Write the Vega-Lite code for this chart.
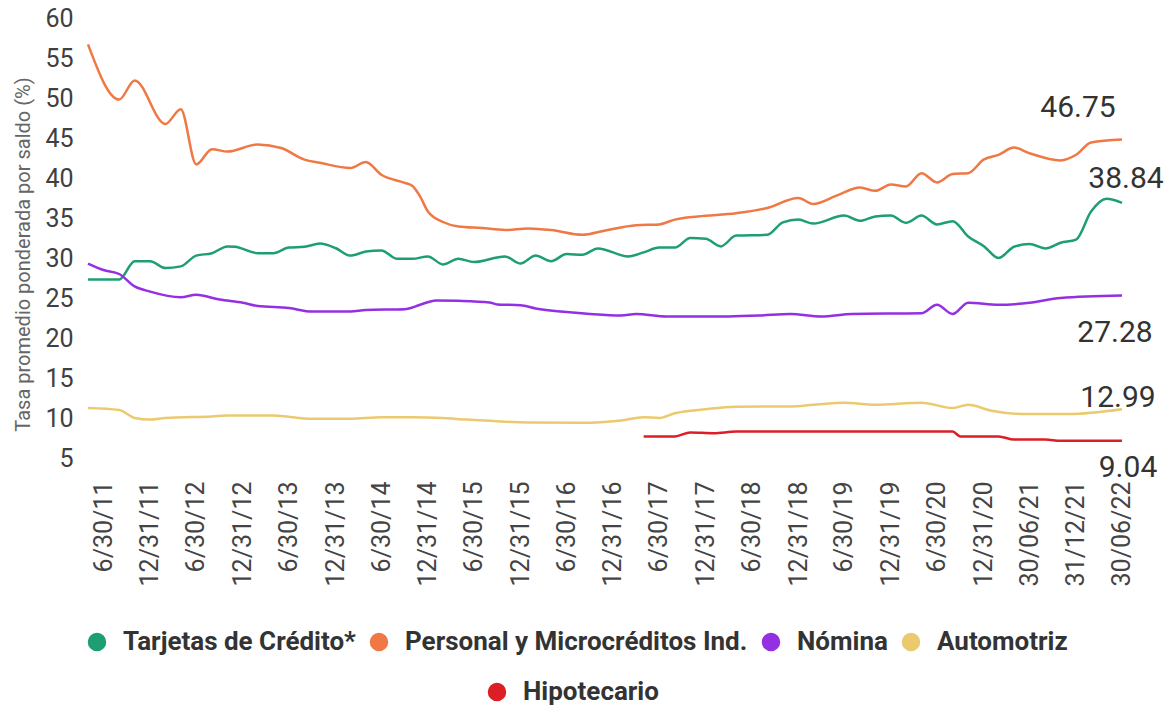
{
  "$schema": "https://vega.github.io/schema/vega-lite/v6.json",
  "width": 1034,
  "height": 440,
  "autosize": {"type": "none"},
  "padding": {"left": 88, "top": 18, "right": 48, "bottom": 251},
  "background": "white",
  "config": {"view": {"stroke": null}, "font": "Roboto"},
  "datasets": {
    "series": [
      {"serie": "Personal y Microcréditos Ind.", "fecha": "2011-05-01", "valor": 56.7},
      {"serie": "Personal y Microcréditos Ind.", "fecha": "2011-09-01", "valor": 49.8},
      {"serie": "Personal y Microcréditos Ind.", "fecha": "2011-11-01", "valor": 52.2},
      {"serie": "Personal y Microcréditos Ind.", "fecha": "2012-03-01", "valor": 46.75},
      {"serie": "Personal y Microcréditos Ind.", "fecha": "2012-05-01", "valor": 48.6},
      {"serie": "Personal y Microcréditos Ind.", "fecha": "2012-07-01", "valor": 41.7},
      {"serie": "Personal y Microcréditos Ind.", "fecha": "2012-09-01", "valor": 43.6},
      {"serie": "Personal y Microcréditos Ind.", "fecha": "2012-11-01", "valor": 43.3},
      {"serie": "Personal y Microcréditos Ind.", "fecha": "2013-03-01", "valor": 44.2},
      {"serie": "Personal y Microcréditos Ind.", "fecha": "2013-06-01", "valor": 43.75},
      {"serie": "Personal y Microcréditos Ind.", "fecha": "2013-09-01", "valor": 42.3},
      {"serie": "Personal y Microcréditos Ind.", "fecha": "2013-11-01", "valor": 41.9},
      {"serie": "Personal y Microcréditos Ind.", "fecha": "2014-03-01", "valor": 41.25},
      {"serie": "Personal y Microcréditos Ind.", "fecha": "2014-05-01", "valor": 42.0},
      {"serie": "Personal y Microcréditos Ind.", "fecha": "2014-07-01", "valor": 40.4},
      {"serie": "Personal y Microcréditos Ind.", "fecha": "2014-10-01", "valor": 39.4},
      {"serie": "Personal y Microcréditos Ind.", "fecha": "2014-11-01", "valor": 39.0},
      {"serie": "Personal y Microcréditos Ind.", "fecha": "2014-12-01", "valor": 37.7},
      {"serie": "Personal y Microcréditos Ind.", "fecha": "2015-01-01", "valor": 35.8},
      {"serie": "Personal y Microcréditos Ind.", "fecha": "2015-03-01", "valor": 34.5},
      {"serie": "Personal y Microcréditos Ind.", "fecha": "2015-05-01", "valor": 33.95},
      {"serie": "Personal y Microcréditos Ind.", "fecha": "2015-08-01", "valor": 33.75},
      {"serie": "Personal y Microcréditos Ind.", "fecha": "2015-11-01", "valor": 33.5},
      {"serie": "Personal y Microcréditos Ind.", "fecha": "2016-02-01", "valor": 33.7},
      {"serie": "Personal y Microcréditos Ind.", "fecha": "2016-05-01", "valor": 33.5},
      {"serie": "Personal y Microcréditos Ind.", "fecha": "2016-09-01", "valor": 32.9},
      {"serie": "Personal y Microcréditos Ind.", "fecha": "2016-12-01", "valor": 33.45},
      {"serie": "Personal y Microcréditos Ind.", "fecha": "2017-04-01", "valor": 34.1},
      {"serie": "Personal y Microcréditos Ind.", "fecha": "2017-07-01", "valor": 34.2},
      {"serie": "Personal y Microcréditos Ind.", "fecha": "2017-09-01", "valor": 34.8},
      {"serie": "Personal y Microcréditos Ind.", "fecha": "2017-12-01", "valor": 35.2},
      {"serie": "Personal y Microcréditos Ind.", "fecha": "2018-05-01", "valor": 35.6},
      {"serie": "Personal y Microcréditos Ind.", "fecha": "2018-09-01", "valor": 36.25},
      {"serie": "Personal y Microcréditos Ind.", "fecha": "2019-01-01", "valor": 37.5},
      {"serie": "Personal y Microcréditos Ind.", "fecha": "2019-03-01", "valor": 36.75},
      {"serie": "Personal y Microcréditos Ind.", "fecha": "2019-06-01", "valor": 37.8},
      {"serie": "Personal y Microcréditos Ind.", "fecha": "2019-09-01", "valor": 38.8},
      {"serie": "Personal y Microcréditos Ind.", "fecha": "2019-11-01", "valor": 38.4},
      {"serie": "Personal y Microcréditos Ind.", "fecha": "2020-01-01", "valor": 39.2},
      {"serie": "Personal y Microcréditos Ind.", "fecha": "2020-03-01", "valor": 38.95},
      {"serie": "Personal y Microcréditos Ind.", "fecha": "2020-05-01", "valor": 40.6},
      {"serie": "Personal y Microcréditos Ind.", "fecha": "2020-07-01", "valor": 39.45},
      {"serie": "Personal y Microcréditos Ind.", "fecha": "2020-09-01", "valor": 40.5},
      {"serie": "Personal y Microcréditos Ind.", "fecha": "2020-11-01", "valor": 40.6},
      {"serie": "Personal y Microcréditos Ind.", "fecha": "2021-01-01", "valor": 42.3},
      {"serie": "Personal y Microcréditos Ind.", "fecha": "2021-03-01", "valor": 42.9},
      {"serie": "Personal y Microcréditos Ind.", "fecha": "2021-05-01", "valor": 43.8},
      {"serie": "Personal y Microcréditos Ind.", "fecha": "2021-07-01", "valor": 43.1},
      {"serie": "Personal y Microcréditos Ind.", "fecha": "2021-11-01", "valor": 42.2},
      {"serie": "Personal y Microcréditos Ind.", "fecha": "2022-01-01", "valor": 42.9},
      {"serie": "Personal y Microcréditos Ind.", "fecha": "2022-03-01", "valor": 44.45},
      {"serie": "Personal y Microcréditos Ind.", "fecha": "2022-07-01", "valor": 44.8},

      {"serie": "Tarjetas de Crédito*", "fecha": "2011-05-01", "valor": 27.3},
      {"serie": "Tarjetas de Crédito*", "fecha": "2011-09-01", "valor": 27.3},
      {"serie": "Tarjetas de Crédito*", "fecha": "2011-11-01", "valor": 29.6},
      {"serie": "Tarjetas de Crédito*", "fecha": "2012-01-01", "valor": 29.6},
      {"serie": "Tarjetas de Crédito*", "fecha": "2012-03-01", "valor": 28.75},
      {"serie": "Tarjetas de Crédito*", "fecha": "2012-05-01", "valor": 28.95},
      {"serie": "Tarjetas de Crédito*", "fecha": "2012-07-01", "valor": 30.3},
      {"serie": "Tarjetas de Crédito*", "fecha": "2012-09-01", "valor": 30.6},
      {"serie": "Tarjetas de Crédito*", "fecha": "2012-11-01", "valor": 31.45},
      {"serie": "Tarjetas de Crédito*", "fecha": "2012-12-01", "valor": 31.4},
      {"serie": "Tarjetas de Crédito*", "fecha": "2013-03-01", "valor": 30.6},
      {"serie": "Tarjetas de Crédito*", "fecha": "2013-05-01", "valor": 30.6},
      {"serie": "Tarjetas de Crédito*", "fecha": "2013-07-01", "valor": 31.3},
      {"serie": "Tarjetas de Crédito*", "fecha": "2013-09-01", "valor": 31.4},
      {"serie": "Tarjetas de Crédito*", "fecha": "2013-11-01", "valor": 31.8},
      {"serie": "Tarjetas de Crédito*", "fecha": "2014-01-01", "valor": 31.25},
      {"serie": "Tarjetas de Crédito*", "fecha": "2014-03-01", "valor": 30.3},
      {"serie": "Tarjetas de Crédito*", "fecha": "2014-05-01", "valor": 30.8},
      {"serie": "Tarjetas de Crédito*", "fecha": "2014-07-01", "valor": 30.95},
      {"serie": "Tarjetas de Crédito*", "fecha": "2014-09-01", "valor": 29.9},
      {"serie": "Tarjetas de Crédito*", "fecha": "2014-11-01", "valor": 29.9},
      {"serie": "Tarjetas de Crédito*", "fecha": "2015-01-01", "valor": 30.2},
      {"serie": "Tarjetas de Crédito*", "fecha": "2015-03-01", "valor": 29.2},
      {"serie": "Tarjetas de Crédito*", "fecha": "2015-05-01", "valor": 29.9},
      {"serie": "Tarjetas de Crédito*", "fecha": "2015-07-01", "valor": 29.5},
      {"serie": "Tarjetas de Crédito*", "fecha": "2015-11-01", "valor": 30.2},
      {"serie": "Tarjetas de Crédito*", "fecha": "2016-01-01", "valor": 29.3},
      {"serie": "Tarjetas de Crédito*", "fecha": "2016-03-01", "valor": 30.3},
      {"serie": "Tarjetas de Crédito*", "fecha": "2016-05-01", "valor": 29.6},
      {"serie": "Tarjetas de Crédito*", "fecha": "2016-07-01", "valor": 30.5},
      {"serie": "Tarjetas de Crédito*", "fecha": "2016-09-01", "valor": 30.4},
      {"serie": "Tarjetas de Crédito*", "fecha": "2016-11-01", "valor": 31.2},
      {"serie": "Tarjetas de Crédito*", "fecha": "2017-03-01", "valor": 30.2},
      {"serie": "Tarjetas de Crédito*", "fecha": "2017-05-01", "valor": 30.7},
      {"serie": "Tarjetas de Crédito*", "fecha": "2017-07-01", "valor": 31.3},
      {"serie": "Tarjetas de Crédito*", "fecha": "2017-09-01", "valor": 31.3},
      {"serie": "Tarjetas de Crédito*", "fecha": "2017-11-01", "valor": 32.5},
      {"serie": "Tarjetas de Crédito*", "fecha": "2018-01-01", "valor": 32.4},
      {"serie": "Tarjetas de Crédito*", "fecha": "2018-03-01", "valor": 31.45},
      {"serie": "Tarjetas de Crédito*", "fecha": "2018-05-01", "valor": 32.8},
      {"serie": "Tarjetas de Crédito*", "fecha": "2018-09-01", "valor": 32.9},
      {"serie": "Tarjetas de Crédito*", "fecha": "2018-11-01", "valor": 34.45},
      {"serie": "Tarjetas de Crédito*", "fecha": "2019-01-01", "valor": 34.8},
      {"serie": "Tarjetas de Crédito*", "fecha": "2019-03-01", "valor": 34.3},
      {"serie": "Tarjetas de Crédito*", "fecha": "2019-07-01", "valor": 35.3},
      {"serie": "Tarjetas de Crédito*", "fecha": "2019-09-01", "valor": 34.65},
      {"serie": "Tarjetas de Crédito*", "fecha": "2019-11-01", "valor": 35.2},
      {"serie": "Tarjetas de Crédito*", "fecha": "2020-01-01", "valor": 35.3},
      {"serie": "Tarjetas de Crédito*", "fecha": "2020-03-01", "valor": 34.4},
      {"serie": "Tarjetas de Crédito*", "fecha": "2020-05-01", "valor": 35.3},
      {"serie": "Tarjetas de Crédito*", "fecha": "2020-07-01", "valor": 34.2},
      {"serie": "Tarjetas de Crédito*", "fecha": "2020-09-01", "valor": 34.6},
      {"serie": "Tarjetas de Crédito*", "fecha": "2020-11-01", "valor": 32.7},
      {"serie": "Tarjetas de Crédito*", "fecha": "2021-01-01", "valor": 31.5},
      {"serie": "Tarjetas de Crédito*", "fecha": "2021-03-01", "valor": 30.0},
      {"serie": "Tarjetas de Crédito*", "fecha": "2021-05-01", "valor": 31.4},
      {"serie": "Tarjetas de Crédito*", "fecha": "2021-07-01", "valor": 31.75},
      {"serie": "Tarjetas de Crédito*", "fecha": "2021-09-01", "valor": 31.2},
      {"serie": "Tarjetas de Crédito*", "fecha": "2021-11-01", "valor": 31.9},
      {"serie": "Tarjetas de Crédito*", "fecha": "2022-01-01", "valor": 32.3},
      {"serie": "Tarjetas de Crédito*", "fecha": "2022-03-01", "valor": 35.8},
      {"serie": "Tarjetas de Crédito*", "fecha": "2022-05-01", "valor": 37.4},
      {"serie": "Tarjetas de Crédito*", "fecha": "2022-07-01", "valor": 36.9},

      {"serie": "Nómina", "fecha": "2011-05-01", "valor": 29.3},
      {"serie": "Nómina", "fecha": "2011-07-01", "valor": 28.5},
      {"serie": "Nómina", "fecha": "2011-09-01", "valor": 28.0},
      {"serie": "Nómina", "fecha": "2011-11-01", "valor": 26.45},
      {"serie": "Nómina", "fecha": "2012-01-01", "valor": 25.8},
      {"serie": "Nómina", "fecha": "2012-05-01", "valor": 25.1},
      {"serie": "Nómina", "fecha": "2012-07-01", "valor": 25.4},
      {"serie": "Nómina", "fecha": "2012-10-01", "valor": 24.8},
      {"serie": "Nómina", "fecha": "2013-01-01", "valor": 24.4},
      {"serie": "Nómina", "fecha": "2013-03-01", "valor": 24.0},
      {"serie": "Nómina", "fecha": "2013-07-01", "valor": 23.75},
      {"serie": "Nómina", "fecha": "2013-10-01", "valor": 23.3},
      {"serie": "Nómina", "fecha": "2014-03-01", "valor": 23.3},
      {"serie": "Nómina", "fecha": "2014-05-01", "valor": 23.5},
      {"serie": "Nómina", "fecha": "2014-10-01", "valor": 23.6},
      {"serie": "Nómina", "fecha": "2014-12-01", "valor": 24.15},
      {"serie": "Nómina", "fecha": "2015-02-01", "valor": 24.7},
      {"serie": "Nómina", "fecha": "2015-05-01", "valor": 24.65},
      {"serie": "Nómina", "fecha": "2015-09-01", "valor": 24.45},
      {"serie": "Nómina", "fecha": "2015-10-01", "valor": 24.2},
      {"serie": "Nómina", "fecha": "2016-01-01", "valor": 24.1},
      {"serie": "Nómina", "fecha": "2016-03-01", "valor": 23.7},
      {"serie": "Nómina", "fecha": "2016-07-01", "valor": 23.25},
      {"serie": "Nómina", "fecha": "2016-10-01", "valor": 23.0},
      {"serie": "Nómina", "fecha": "2017-02-01", "valor": 22.8},
      {"serie": "Nómina", "fecha": "2017-04-01", "valor": 23.0},
      {"serie": "Nómina", "fecha": "2017-08-01", "valor": 22.7},
      {"serie": "Nómina", "fecha": "2018-04-01", "valor": 22.7},
      {"serie": "Nómina", "fecha": "2018-08-01", "valor": 22.8},
      {"serie": "Nómina", "fecha": "2018-12-01", "valor": 23.0},
      {"serie": "Nómina", "fecha": "2019-04-01", "valor": 22.7},
      {"serie": "Nómina", "fecha": "2019-08-01", "valor": 23.0},
      {"serie": "Nómina", "fecha": "2020-05-01", "valor": 23.1},
      {"serie": "Nómina", "fecha": "2020-07-01", "valor": 24.15},
      {"serie": "Nómina", "fecha": "2020-09-01", "valor": 23.0},
      {"serie": "Nómina", "fecha": "2020-11-01", "valor": 24.4},
      {"serie": "Nómina", "fecha": "2021-03-01", "valor": 24.15},
      {"serie": "Nómina", "fecha": "2021-07-01", "valor": 24.4},
      {"serie": "Nómina", "fecha": "2021-11-01", "valor": 25.0},
      {"serie": "Nómina", "fecha": "2022-07-01", "valor": 25.3},

      {"serie": "Automotriz", "fecha": "2011-05-01", "valor": 11.25},
      {"serie": "Automotriz", "fecha": "2011-09-01", "valor": 11.0},
      {"serie": "Automotriz", "fecha": "2011-11-01", "valor": 10.0},
      {"serie": "Automotriz", "fecha": "2012-01-01", "valor": 9.8},
      {"serie": "Automotriz", "fecha": "2012-03-01", "valor": 10.0},
      {"serie": "Automotriz", "fecha": "2012-09-01", "valor": 10.2},
      {"serie": "Automotriz", "fecha": "2012-11-01", "valor": 10.3},
      {"serie": "Automotriz", "fecha": "2013-05-01", "valor": 10.3},
      {"serie": "Automotriz", "fecha": "2013-10-01", "valor": 9.9},
      {"serie": "Automotriz", "fecha": "2014-03-01", "valor": 9.9},
      {"serie": "Automotriz", "fecha": "2014-07-01", "valor": 10.1},
      {"serie": "Automotriz", "fecha": "2014-11-01", "valor": 10.1},
      {"serie": "Automotriz", "fecha": "2015-03-01", "valor": 10.0},
      {"serie": "Automotriz", "fecha": "2015-06-01", "valor": 9.8},
      {"serie": "Automotriz", "fecha": "2016-02-01", "valor": 9.45},
      {"serie": "Automotriz", "fecha": "2016-09-01", "valor": 9.4},
      {"serie": "Automotriz", "fecha": "2017-02-01", "valor": 9.7},
      {"serie": "Automotriz", "fecha": "2017-05-01", "valor": 10.1},
      {"serie": "Automotriz", "fecha": "2017-07-01", "valor": 10.0},
      {"serie": "Automotriz", "fecha": "2017-09-01", "valor": 10.6},
      {"serie": "Automotriz", "fecha": "2018-01-01", "valor": 11.1},
      {"serie": "Automotriz", "fecha": "2018-05-01", "valor": 11.4},
      {"serie": "Automotriz", "fecha": "2018-12-01", "valor": 11.45},
      {"serie": "Automotriz", "fecha": "2019-03-01", "valor": 11.65},
      {"serie": "Automotriz", "fecha": "2019-07-01", "valor": 11.9},
      {"serie": "Automotriz", "fecha": "2019-11-01", "valor": 11.65},
      {"serie": "Automotriz", "fecha": "2020-05-01", "valor": 11.9},
      {"serie": "Automotriz", "fecha": "2020-09-01", "valor": 11.25},
      {"serie": "Automotriz", "fecha": "2020-11-01", "valor": 11.65},
      {"serie": "Automotriz", "fecha": "2021-02-01", "valor": 10.9},
      {"serie": "Automotriz", "fecha": "2021-06-01", "valor": 10.5},
      {"serie": "Automotriz", "fecha": "2021-12-01", "valor": 10.5},
      {"serie": "Automotriz", "fecha": "2022-07-01", "valor": 11.1},

      {"serie": "Hipotecario", "fecha": "2017-05-01", "valor": 7.7},
      {"serie": "Hipotecario", "fecha": "2017-09-01", "valor": 7.7},
      {"serie": "Hipotecario", "fecha": "2017-11-01", "valor": 8.2},
      {"serie": "Hipotecario", "fecha": "2018-02-01", "valor": 8.1},
      {"serie": "Hipotecario", "fecha": "2018-05-01", "valor": 8.3},
      {"serie": "Hipotecario", "fecha": "2020-09-01", "valor": 8.3},
      {"serie": "Hipotecario", "fecha": "2020-10-01", "valor": 7.7},
      {"serie": "Hipotecario", "fecha": "2021-03-01", "valor": 7.7},
      {"serie": "Hipotecario", "fecha": "2021-05-01", "valor": 7.3},
      {"serie": "Hipotecario", "fecha": "2021-09-01", "valor": 7.3},
      {"serie": "Hipotecario", "fecha": "2021-11-01", "valor": 7.15},
      {"serie": "Hipotecario", "fecha": "2022-07-01", "valor": 7.15}
    ],
    "etiquetas": [
      {"serie": "Personal y Microcréditos Ind.", "fecha": "2022-07-01", "valor": 44.8, "texto": "46.75"},
      {"serie": "Tarjetas de Crédito*", "fecha": "2022-07-01", "valor": 36.9, "texto": "38.84"},
      {"serie": "Nómina", "fecha": "2022-07-01", "valor": 25.3, "texto": "27.28"},
      {"serie": "Automotriz", "fecha": "2022-07-01", "valor": 11.1, "texto": "12.99"},
      {"serie": "Hipotecario", "fecha": "2022-07-01", "valor": 7.15, "texto": "9.04"}
    ]
  },
  "layer": [
    {
      "data": {"name": "series"},
      "transform": [{"filter": "datum.serie !== 'Hipotecario'"}],
      "mark": {"type": "line", "strokeWidth": 2.5, "interpolate": "monotone"},
      "encoding": {
        "x": {
          "field": "fecha", "type": "temporal",
          "scale": {"type": "utc", "domain": [{"year": 2011, "month": 5, "date": 1, "utc": true}, {"year": 2022, "month": 7, "date": 1, "utc": true}]},
          "axis": {
            "values": [
              {"year": 2011, "month": 6, "date": 30, "utc": true},
              {"year": 2011, "month": 12, "date": 31, "utc": true},
              {"year": 2012, "month": 6, "date": 30, "utc": true},
              {"year": 2012, "month": 12, "date": 31, "utc": true},
              {"year": 2013, "month": 6, "date": 30, "utc": true},
              {"year": 2013, "month": 12, "date": 31, "utc": true},
              {"year": 2014, "month": 6, "date": 30, "utc": true},
              {"year": 2014, "month": 12, "date": 31, "utc": true},
              {"year": 2015, "month": 6, "date": 30, "utc": true},
              {"year": 2015, "month": 12, "date": 31, "utc": true},
              {"year": 2016, "month": 6, "date": 30, "utc": true},
              {"year": 2016, "month": 12, "date": 31, "utc": true},
              {"year": 2017, "month": 6, "date": 30, "utc": true},
              {"year": 2017, "month": 12, "date": 31, "utc": true},
              {"year": 2018, "month": 6, "date": 30, "utc": true},
              {"year": 2018, "month": 12, "date": 31, "utc": true},
              {"year": 2019, "month": 6, "date": 30, "utc": true},
              {"year": 2019, "month": 12, "date": 31, "utc": true},
              {"year": 2020, "month": 6, "date": 30, "utc": true},
              {"year": 2020, "month": 12, "date": 31, "utc": true},
              {"year": 2021, "month": 6, "date": 30, "utc": true},
              {"year": 2021, "month": 12, "date": 31, "utc": true},
              {"year": 2022, "month": 6, "date": 30, "utc": true}
            ],
            "tickCount": 40,
            "labelExpr": "utcyear(datum.value) < 2021 ? utcFormat(datum.value, '%-m/%d/%y') : utcFormat(datum.value, '%d/%m/%y')",
            "labelAngle": 270, "labelFontSize": 25, "labelColor": "#444444", "labelPadding": 23,
            "ticks": false, "tickSize": 0, "domain": false, "grid": false, "title": null,
            "labelOverlap": false, "labelFlush": false, "labelBound": false
          }
        },
        "y": {
          "field": "valor", "type": "quantitative",
          "scale": {"domain": [5, 60], "nice": false, "zero": false},
          "axis": {
            "values": [5, 10, 15, 20, 25, 30, 35, 40, 45, 50, 55, 60],
            "tickCount": 20,
            "labelFontSize": 25, "labelColor": "#404040", "labelPadding": 15,
            "labelOverlap": false, "labelFlush": false, "labelBound": false,
            "ticks": false, "tickSize": 0, "domain": false, "grid": false,
            "title": "Tasa promedio ponderada por saldo (%)", "titleFontSize": 20, "titleFontWeight": "normal",
            "titleColor": "#666666", "titleX": -55, "titleY": 236
          }
        },
        "color": {
          "field": "serie", "type": "nominal",
          "scale": {"domain": ["Tarjetas de Crédito*", "Personal y Microcréditos Ind.", "Nómina", "Automotriz"], "range": ["#1d9e74", "#f07845", "#9430e3", "#ebc96e"]},
          "legend": {
            "orient": "none", "legendX": -4, "legendY": 611, "direction": "horizontal", "title": null,
            "symbolType": "circle", "symbolSize": 289, "labelFontSize": 26, "labelFontWeight": "bold",
            "labelColor": "#333333", "labelOffset": 13, "columnPadding": 10, "padding": 0, "labelLimit": 0,
            "encode": {"symbols": {"update": {"fill": {"scale": "color", "field": "value"}, "stroke": {"value": "transparent"}, "opacity": {"value": 1}}}}
          }
        }
      }
    },
    {
      "data": {"name": "series"},
      "transform": [{"filter": "datum.serie === 'Hipotecario'"}],
      "mark": {"type": "line", "strokeWidth": 2.5, "interpolate": "monotone"},
      "encoding": {
        "x": {"field": "fecha", "type": "temporal"},
        "y": {"field": "valor", "type": "quantitative"},
        "stroke": {
          "field": "serie", "type": "nominal",
          "scale": {"domain": ["Hipotecario"], "range": ["#dc1f26"]},
          "legend": {
            "orient": "none", "legendX": 396, "legendY": 661, "direction": "horizontal", "title": null,
            "symbolType": "circle", "symbolSize": 289, "labelFontSize": 26, "labelFontWeight": "bold",
            "labelColor": "#333333", "labelOffset": 13, "padding": 0, "labelLimit": 0,
            "encode": {"symbols": {"update": {"fill": {"scale": "stroke", "field": "value"}, "stroke": {"value": "transparent"}, "opacity": {"value": 1}}}}
          }
        }
      }
    },
    {
      "data": {"name": "etiquetas"},
      "transform": [{"filter": "datum.serie === 'Personal y Microcréditos Ind.'"}],
      "mark": {"type": "text", "fontSize": 30, "color": "#333333", "align": "center", "baseline": "alphabetic", "dx": -44, "dy": -23},
      "encoding": {"x": {"field": "fecha", "type": "temporal"}, "y": {"field": "valor", "type": "quantitative"}, "text": {"field": "texto"}}
    },
    {
      "data": {"name": "etiquetas"},
      "transform": [{"filter": "datum.serie === 'Tarjetas de Crédito*'"}],
      "mark": {"type": "text", "fontSize": 30, "color": "#333333", "align": "center", "baseline": "alphabetic", "dx": 4, "dy": -15},
      "encoding": {"x": {"field": "fecha", "type": "temporal"}, "y": {"field": "valor", "type": "quantitative"}, "text": {"field": "texto"}}
    },
    {
      "data": {"name": "etiquetas"},
      "transform": [{"filter": "datum.serie === 'Nómina'"}],
      "mark": {"type": "text", "fontSize": 30, "color": "#333333", "align": "center", "baseline": "alphabetic", "dx": -7, "dy": 46},
      "encoding": {"x": {"field": "fecha", "type": "temporal"}, "y": {"field": "valor", "type": "quantitative"}, "text": {"field": "texto"}}
    },
    {
      "data": {"name": "etiquetas"},
      "transform": [{"filter": "datum.serie === 'Automotriz'"}],
      "mark": {"type": "text", "fontSize": 30, "color": "#333333", "align": "center", "baseline": "alphabetic", "dx": -4, "dy": -2},
      "encoding": {"x": {"field": "fecha", "type": "temporal"}, "y": {"field": "valor", "type": "quantitative"}, "text": {"field": "texto"}}
    },
    {
      "data": {"name": "etiquetas"},
      "transform": [{"filter": "datum.serie === 'Hipotecario'"}],
      "mark": {"type": "text", "fontSize": 30, "color": "#333333", "align": "center", "baseline": "alphabetic", "dx": 6, "dy": 36},
      "encoding": {"x": {"field": "fecha", "type": "temporal"}, "y": {"field": "valor", "type": "quantitative"}, "text": {"field": "texto"}}
    }
  ]
}
